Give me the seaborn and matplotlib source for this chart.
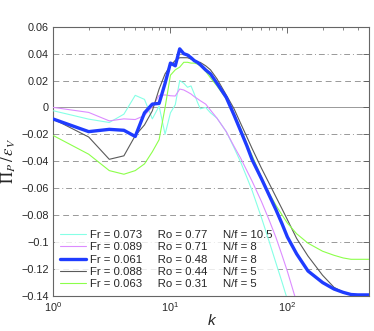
import numpy as np
import pandas as pd
import matplotlib
matplotlib.use("Agg")
import matplotlib.pyplot as plt
import seaborn as sns

sns.set_style("white")
plt.rcParams['font.family'] = ['Liberation Sans', 'DejaVu Sans']
plt.rcParams['mathtext.fontset'] = 'stix'

# wavenumbers (shared by all runs)
k = [1, 2, 3, 4, 5, 6, 7, 8, 9, 10, 11, 12, 13, 14, 15, 16, 17, 18, 20, 22, 25,
     30, 35, 40, 45, 50, 60, 70, 80, 90, 100, 120, 150, 200, 250, 300, 350, 400, 500]

# Pi_P / eps_V for each run
run_a = [-0.0025, -0.0087, -0.0112, -0.005, 0.009, 0.006, -0.0085, 0.001, -0.020, -0.004,
         0.002, 0.020, 0.018, 0.015, 0.016, 0.010, 0.004, -0.001, 0.0, -0.004, -0.008,
         -0.018, -0.030, -0.041, -0.052, -0.062, -0.082, -0.100, -0.116, -0.130, -0.143,
         -0.165, -0.19, -0.22, -0.24, -0.26, -0.27, -0.28, -0.29]
run_b = [0.0, -0.0037, -0.010, -0.0085, -0.009, -0.006, 0.0005, 0.009, 0.0093, 0.0087,
         0.0085, 0.0137, 0.013, 0.0115, 0.010, 0.008, 0.0065, 0.005, 0.0025, -0.002, -0.008,
         -0.018, -0.029, -0.038, -0.047, -0.055, -0.070, -0.084, -0.097, -0.110, -0.122,
         -0.145, -0.17, -0.20, -0.22, -0.24, -0.25, -0.26, -0.27]
run_c = [-0.0087, -0.018, -0.0163, -0.017, -0.0216, -0.004, 0.0025, 0.003, 0.018, 0.033,
         0.031, 0.0436, 0.040, 0.039, 0.037, 0.0348, 0.0336, 0.0318, 0.0279, 0.025, 0.018,
         0.0075, -0.0057, -0.0178, -0.0285, -0.039, -0.053, -0.0655, -0.0763, -0.0866, -0.0964,
         -0.109, -0.1217, -0.1303, -0.1351, -0.1376, -0.1392, -0.1395, -0.1395]
run_d = [-0.0087, -0.022, -0.0386, -0.036, -0.021, -0.013, -0.0025, 0.0137, 0.025, 0.031,
         0.035, 0.037, 0.037, 0.037, 0.036, 0.035, 0.034, 0.0335, 0.031, 0.028, 0.0213,
         0.0093, -0.001, -0.0122, -0.0219, -0.0307, -0.0452, -0.0567, -0.0667, -0.0755, -0.0835,
         -0.0975, -0.1106, -0.1249, -0.1338, -0.1375, -0.1393, -0.1395, -0.1395]
run_e = [-0.021, -0.0348, -0.047, -0.0497, -0.047, -0.042, -0.033, -0.024, 0.0, 0.024,
         0.028, 0.030, 0.0336, 0.0336, 0.033, 0.033, 0.0323, 0.031, 0.0269, 0.022, 0.016,
         0.0065, -0.005, -0.016, -0.027, -0.036, -0.052, -0.064, -0.073, -0.080, -0.086,
         -0.094, -0.101, -0.107, -0.110, -0.112, -0.113, -0.113, -0.113]

fr = [0.073, 0.089, 0.061, 0.088, 0.063]
ro = [0.77, 0.71, 0.48, 0.44, 0.31]
nf = [10.5, 8, 8, 5, 5]

colors = ['#86ffe6', '#dc8cff', '#1f3cff', '#5a5a5a', '#8cff4a']
widths = [0.8, 0.8, 2.4, 0.8, 0.8]

fig = plt.figure(figsize=(3.74, 3.31), dpi=100)
ax = fig.add_axes([0.143, 0.107, 0.844, 0.812])

runs = [run_a, run_b, run_c, run_d, run_e]
for i, vals in enumerate(runs):
    df = pd.DataFrame({"k": k, "pi": vals})
    lab = f"Fr = {fr[i]}     Ro = {ro[i]}     N/f = {nf[i]}"
    sns.lineplot(data=df, x="k", y="pi", color=colors[i], linewidth=widths[i],
                 label=lab, ax=ax, zorder=3 + (i == 2))

ax.set_xscale("log")
ax.set_xlim(1, 500)
ax.set_ylim(-0.14, 0.06)
ax.set_yticks(np.arange(-0.14, 0.061, 0.02))
ax.yaxis.set_major_formatter(plt.FuncFormatter(lambda v, p: "0" if abs(v) < 1e-9 else f"{v:g}".replace("-", "\u2212")))

ax.set_xlabel("k", style="italic", fontsize=11, labelpad=0)
ax.set_ylabel(r"$\Pi_P\,/\,\varepsilon_V$", fontsize=12, labelpad=2)

ax.tick_params(axis="both", which="both", direction="in", top=True, right=True,
               labelsize=7.8, color="#555555")
ax.tick_params(which="major", length=4, width=0.6)
ax.tick_params(which="minor", length=2, width=0.5)
for s in ax.spines.values():
    s.set_color("#666666")
    s.set_linewidth(0.8)

# grid styles: dashed / dash-dot alternating, solid at zero
ax.yaxis.grid(True, color="#999999", linewidth=0.7, zorder=1)
ax.set_axisbelow(True)
styles = {0.04: (0, (6, 3, 1, 3)), 0.02: (0, (6, 4)), 0.0: "-",
          -0.02: (0, (6, 3, 1, 3)), -0.04: (0, (6, 4)), -0.06: (0, (6, 3, 1, 3)),
          -0.08: (0, (6, 4)), -0.1: (0, (6, 3, 1, 3)), -0.12: (0, (6, 4))}
for t, gl in zip(ax.get_yticks(), ax.get_ygridlines()):
    key = round(t, 2)
    if key in styles:
        gl.set_linestyle(styles[key])
    else:
        gl.set_visible(False)

leg = ax.legend(loc="lower left", bbox_to_anchor=(0.0, 0.0), fontsize=8.2,
                handlelength=2.3, handletextpad=0.4, labelspacing=0.2,
                borderaxespad=0.15, frameon=True, fancybox=False)
leg.get_frame().set_facecolor("white")
leg.get_frame().set_edgecolor("none")
leg.set_zorder(2)

plt.savefig("out.png", dpi=100)
